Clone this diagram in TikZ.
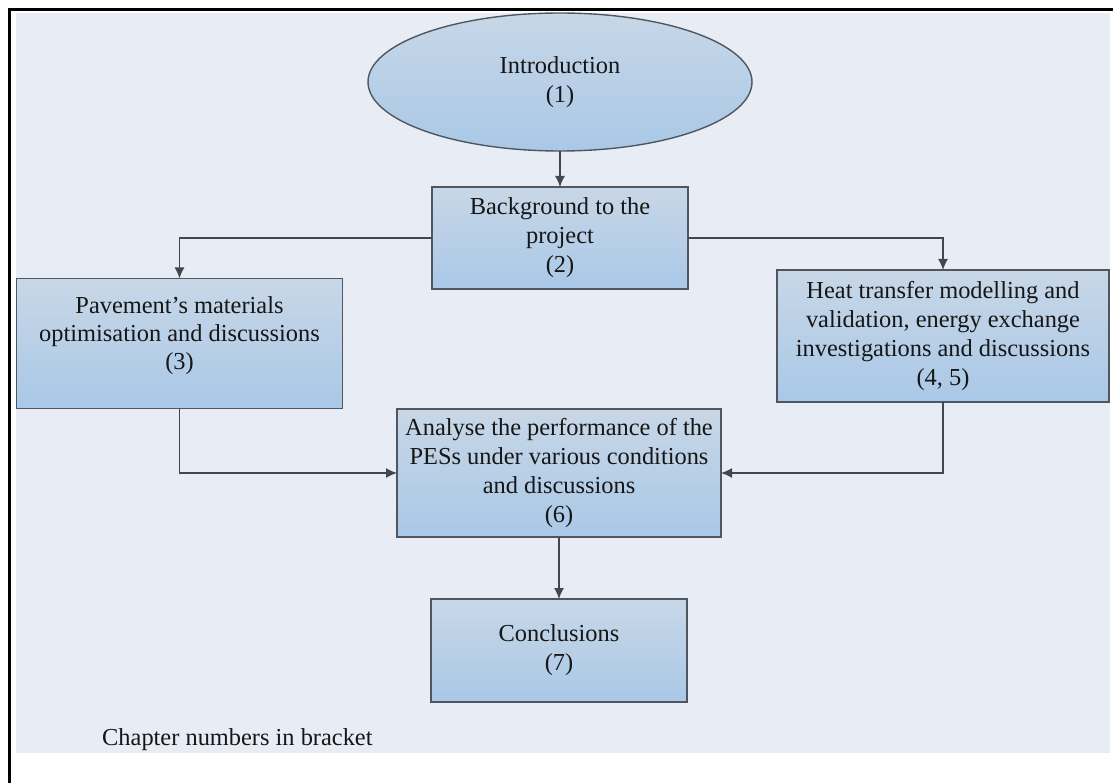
\documentclass[tikz,border=0pt]{standalone}
\usepackage{fontspec}
\setmainfont{Liberation Serif}
\usetikzlibrary{shapes.geometric,arrows.meta}
\definecolor{bgc}{HTML}{E8ECF5}
\definecolor{boxtop}{HTML}{C8D7E7}
\definecolor{boxbot}{HTML}{A9C8E7}
\definecolor{edgec}{HTML}{50565D}
\definecolor{linec}{HTML}{42474D}
\definecolor{txtc}{HTML}{161616}
\tikzset{
  stagebox/.style={draw=edgec, line width=1.4pt, top color=boxtop, bottom color=boxbot,
    rectangle, inner sep=0pt, outer sep=0pt, align=center, text=txtc,
    font=\fontsize{24.4}{29}\selectfont},
  introshape/.style={stagebox, ellipse},
  boxtext/.style={inner sep=0pt, align=center, text=txtc, font=\fontsize{24.4}{28}\selectfont},
  conn/.style={draw=linec, line width=1.4pt, -{Latex[length=11pt,width=10pt]}}
}
\begin{document}
\begin{tikzpicture}[x=1pt,y=-1pt]
\useasboundingbox (0,0) rectangle (1113,783);
\fill[bgc] (16,13) rectangle (1110,753);
\draw[black, line width=3pt] (1113,10) -- (9,10) -- (9,783);

\node[introshape, minimum width=384pt, minimum height=138pt] (intro) at (560,82) {Introduction\\(1)};
\node[stagebox, minimum width=256pt, minimum height=102pt] (bg) at (560,238) {Background to the\\project\\(2)};
\node[stagebox, minimum width=326pt, minimum height=130pt] (pav) at (179.5,343.5) {};
\node[boxtext] (pavtext) at (179.5,336) {Pavement's materials\\optimisation and discussions\\(3)};
\node[stagebox, minimum width=332pt, minimum height=132pt] (heat) at (943,336) {Heat transfer modelling and\\validation, energy exchange\\investigations and discussions\\(4, 5)};
\node[stagebox, minimum width=324pt, minimum height=128pt] (ana) at (559,473) {Analyse the performance of the\\PESs under various conditions\\and discussions\\(6)};
\node[stagebox, minimum width=256pt, minimum height=103pt] (conc) at (559,650.5) {Conclusions\\(7)};

\node[anchor=base west, inner sep=0pt, text=txtc, font=\fontsize{24.4}{29}\selectfont] (note) at (102,745) {Chapter numbers in bracket};

\draw[conn] (intro.south) -- (bg.north);
\draw[conn] (bg.west) -| (pav.north);
\draw[conn] (bg.east) -| (heat.north);
\draw[conn] (pav.south) |- (ana.west);
\draw[conn] (heat.south) |- (ana.east);
\draw[conn] (ana.south) -- (conc.north);
\end{tikzpicture}
\end{document}
